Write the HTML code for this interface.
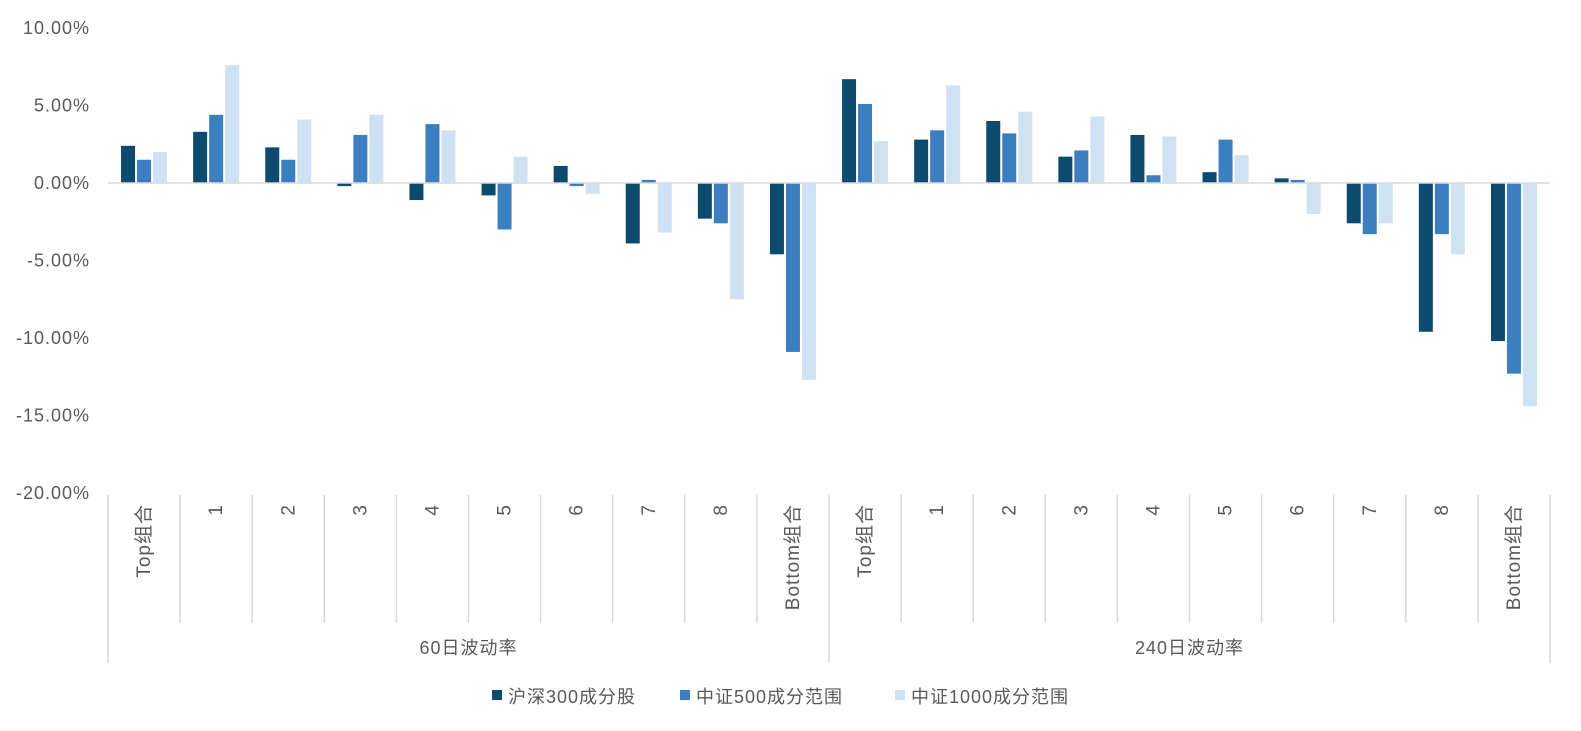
<!DOCTYPE html>
<html><head><meta charset="utf-8"><style>
body{margin:0;background:#fff;}
svg text{font-family:"Liberation Sans","Noto Sans CJK SC",sans-serif;fill:#595959;letter-spacing:1px;}
</style></head><body>
<svg id="chart" width="1581" height="726" xmlns="http://www.w3.org/2000/svg"></svg>
<script>
const categories=["Top组合","1","2","3","4","5","6","7","8","Bottom组合","Top组合","1","2","3","4","5","6","7","8","Bottom组合"];
const groups=["60日波动率","240日波动率"];
const seriesNames=["沪深300成分股","中证500成分范围","中证1000成分范围"];
const hs300=[2.4,3.3,2.3,-0.2,-1.1,-0.8,1.1,-3.9,-2.3,-4.6,6.7,2.8,4.0,1.7,3.1,0.7,0.3,-2.6,-9.6,-10.2];
const zz500=[1.5,4.4,1.5,3.1,3.8,-3.0,-0.2,0.2,-2.6,-10.9,5.1,3.4,3.2,2.1,0.5,2.8,0.2,-3.3,-3.3,-12.3];
const zz1000=[2.0,7.6,4.1,4.4,3.4,1.7,-0.7,-3.2,-7.5,-12.7,2.7,6.3,4.6,4.3,3.0,1.8,-2.0,-2.6,-4.6,-14.4];
const ticks=[10,5,0,-5,-10,-15,-20];
const tickLabels=["10.00%","5.00%","0.00%","-5.00%","-10.00%","-15.00%","-20.00%"];
const colors=["#0d4b6e","#3b7fc0","#cfe2f3"];
const svg=document.getElementById('chart');
const NS="http://www.w3.org/2000/svg";
const x0=108,x1=1550,yTop=28,yBot=493;
const y=v=>yTop+(10-v)*(yBot-yTop)/30;
const cw=(x1-x0)/categories.length;
function mk(t,a,txt){const e=document.createElementNS(NS,t);for(const k in a)e.setAttribute(k,a[k]);if(txt!==undefined)e.textContent=txt;svg.appendChild(e);return e;}
ticks.forEach((t,i)=>{
 const e=mk('text',{x:90,y:y(t)+6,'text-anchor':'end','font-size':18},tickLabels[i]);
 
 
});
const series=[hs300,zz500,zz1000];
const bw=14,gap=2;
series.forEach((s,si)=>{
 s.forEach((v,ci)=>{
  const cx=x0+cw*(ci+0.5);
  const bx=cx-(3*bw+2*gap)/2+si*(bw+gap);
  const ya=y(Math.max(v,0)),yb=y(Math.min(v,0));
  const r=mk('rect',{x:bx,y:ya,width:bw,height:Math.max(yb-ya,0.5),fill:colors[si]});
  
  
 });
});
const zl=mk('line',{x1:x0,x2:x1,y1:y(0),y2:y(0),stroke:'#d9d9d9','stroke-width':1.5});


for(let i=0;i<=categories.length;i++){
 const xx=x0+cw*i;
 const full=(i%10===0);
 const l=mk('line',{x1:xx,x2:xx,y1:495,y2:full?663:623,stroke:'#d9d9d9','stroke-width':1.5});
 
 
}
categories.forEach((c,ci)=>{
 const cx=x0+cw*(ci+0.5)+6;
 const t=mk('text',{x:0,y:0,'text-anchor':'end','font-size':19,transform:`translate(${cx},504) rotate(-90)`},c);
 
 
});
groups.forEach((g,gi)=>{
 const cx=x0+cw*10*(gi+0.5);
 const t=mk('text',{x:cx,y:654,'text-anchor':'middle','font-size':18},g);
 
 
});
const lx=[492,680,895];
seriesNames.forEach((n,i)=>{
 const r=mk('rect',{x:lx[i],y:690,width:10,height:10,fill:colors[i]});
 
 
 const t=mk('text',{x:lx[i]+16,y:703,'font-size':18},n);
 
 
});
</script>
</body></html>
